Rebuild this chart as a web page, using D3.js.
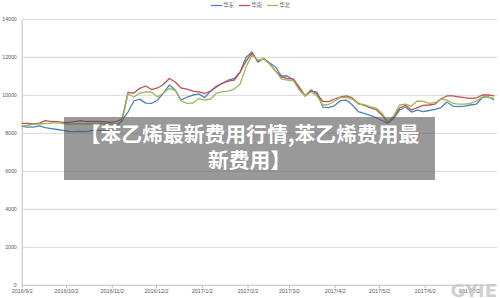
<!DOCTYPE html>
<html>
<head>
<meta charset="utf-8">
<script src="https://cdn.jsdelivr.net/npm/d3@7"></script>
<style>
  html, body { margin: 0; padding: 0; background: #fff; }
  svg { display: block; }
</style>
</head>
<body>
<div class="container"></div>
<script>
// dates every 4 days
var dates = ["2016-09-02","2016-09-06","2016-09-10","2016-09-14","2016-09-18","2016-09-22","2016-09-26","2016-09-30",
  "2016-10-04","2016-10-08","2016-10-12","2016-10-16","2016-10-20","2016-10-24","2016-10-28","2016-11-01",
  "2016-11-05","2016-11-09","2016-11-13","2016-11-17","2016-11-21","2016-11-25","2016-11-29","2016-12-03",
  "2016-12-07","2016-12-11","2016-12-15","2016-12-19","2016-12-23","2016-12-27","2016-12-31","2017-01-04",
  "2017-01-08","2017-01-12","2017-01-16","2017-01-20","2017-01-24","2017-01-28","2017-02-01","2017-02-05",
  "2017-02-09","2017-02-13","2017-02-17","2017-02-21","2017-02-25","2017-03-01","2017-03-05","2017-03-09",
  "2017-03-13","2017-03-17","2017-03-21","2017-03-25","2017-03-29","2017-04-02","2017-04-06","2017-04-10",
  "2017-04-14","2017-04-18","2017-04-22","2017-04-26","2017-04-30","2017-05-04","2017-05-08","2017-05-12",
  "2017-05-16","2017-05-20","2017-05-24","2017-05-28","2017-06-01","2017-06-05","2017-06-09","2017-06-13",
  "2017-06-17","2017-06-21","2017-06-25","2017-06-29","2017-07-03","2017-07-07","2017-07-11","2017-07-15",
  "2017-07-19"];

var huadong = [8360,8330,8320,8390,8300,8250,8200,8150,8095,8085,8095,8085,8150,8150,8135,8135,
  8280,8700,9120,9700,9800,9590,9570,9750,10120,10540,10280,9750,9910,10015,10070,9880,
  10225,10490,10620,10800,10885,11225,12000,12280,11750,11935,11700,11490,11015,11015,10805,10385,
  9965,10225,10170,9380,9355,9460,9725,9750,9490,9145,9050,8945,8830,8675,8525,8780,
  9225,9385,9120,9225,9145,9200,9265,9355,9645,9435,9400,9435,9490,9540,9885,9925,9750];

var huanan = [8525,8515,8490,8540,8665,8620,8610,8570,8570,8620,8665,8620,8620,8620,8595,8570,
  8620,8750,10150,10120,10370,10490,10305,10385,10570,10885,10700,10385,10330,10225,10175,10095,
  10225,10435,10645,10750,10805,11225,11805,12225,11780,11935,11645,11280,10960,10885,10860,10435,
  9965,10280,10070,9675,9665,9805,9910,9965,9860,9570,9465,9355,9250,8965,8570,8860,
  9330,9475,9225,9355,9465,9490,9540,9805,9965,9965,9920,9875,9840,9860,10015,10015,9965];

var huabei = [8385,8410,8465,8490,8515,8525,8560,8515,8490,8490,8490,8490,8490,8490,8490,8490,
  8490,8620,10070,9910,10120,10175,10175,9910,10120,10360,10250,9700,9580,9595,9830,9750,
  9805,10120,10190,10225,10330,10595,11490,12120,11855,11910,11645,11280,10855,10805,10780,10280,
  9965,10175,9965,9490,9515,9700,9885,9885,9805,9540,9515,9410,9330,9070,8595,8910,
  9490,9540,9435,9700,9675,9570,9610,9805,9750,9580,9540,9540,9570,9700,9910,9910,9840];

var seriesNames = ["华东", "华南", "华北"];
var seriesColors = ["#4f81bd", "#c0504d", "#9bbb59"];
var yTicks = [0, 2000, 4000, 6000, 8000, 10000, 12000, 14000];
var tickDates = ["2016-09-02","2016-10-02","2016-11-02","2016-12-02","2017-01-02","2017-02-02",
  "2017-03-02","2017-04-02","2017-05-02","2017-06-02","2017-07-02"];
var titleLines = ["【苯乙烯最新费用行情,苯乙烯费用最", "新费用】"];

var width = 500, height = 298;
var parse = d3.timeParse("%Y-%m-%d");
var fmt = function(d) { return d.getFullYear() + "/" + (d.getMonth() + 1) + "/" + d.getDate(); };

var svg = d3.select(".container").append("svg")
  .attr("width", width)
  .attr("height", height);

var x = d3.scaleTime()
  .domain([parse("2016-09-02"), parse("2017-07-21")])
  .range([21.7, 497]);
var y = d3.scaleLinear()
  .domain([0, 14000])
  .range([285.3, 19.3]);

// grid lines
svg.append("g").selectAll("line")
  .data(yTicks)
  .enter()
  .append("line")
  .attr("x1", x.range()[0])
  .attr("x2", x.range()[1])
  .attr("y1", function(d) { return y(d); })
  .attr("y2", function(d) { return y(d); })
  .attr("stroke", function(d) { return d === 0 ? "#bfbfbf" : "#d9d9d9"; })
  .attr("stroke-width", 1);

// left axis
var yAxis = svg.append("g")
  .attr("transform", "translate(" + x.range()[0] + ",0)")
  .call(d3.axisLeft(y).tickValues(yTicks).tickSize(0).tickPadding(5).tickFormat(d3.format("d")));
yAxis.select(".domain").attr("stroke", "#bfbfbf");
yAxis.selectAll("text")
  .attr("fill", "#595959")
  .style("font-family", "Liberation Sans, Arial, sans-serif")
  .style("font-size", "5.2px");

// bottom axis
var xAxis = svg.append("g")
  .attr("transform", "translate(0," + y(0) + ")")
  .call(d3.axisBottom(x).tickValues(tickDates.map(parse)).tickSize(3).tickPadding(1).tickFormat(fmt));
xAxis.select(".domain").remove();
xAxis.selectAll("line").attr("stroke", "#bfbfbf");
xAxis.selectAll("text")
  .attr("fill", "#595959")
  .style("font-family", "Liberation Sans, Arial, sans-serif")
  .style("font-size", "5.4px");

// series lines
var allSeries = [huadong, huanan, huabei];
var line = d3.line()
  .x(function(d, i) { return x(parse(dates[i])); })
  .y(function(d) { return y(d); });

svg.append("g").selectAll("path")
  .data(allSeries)
  .enter()
  .append("path")
  .attr("d", function(d) { return line(d); })
  .attr("fill", "none")
  .attr("stroke", function(d, i) { return seriesColors[i]; })
  .attr("stroke-width", 1.3)
  .attr("stroke-linejoin", "round");

// legend
var legendX = [211, 239, 267];
var legend = svg.append("g").selectAll("g")
  .data(seriesNames)
  .enter()
  .append("g")
  .attr("transform", function(d, i) { return "translate(" + legendX[i] + ",5.5)"; });
legend.append("line")
  .attr("x1", 0).attr("x2", 11)
  .attr("stroke", function(d, i) { return seriesColors[i]; })
  .attr("stroke-width", 1.3);
legend.append("text")
  .attr("x", 12.5)
  .attr("dy", "0.35em")
  .attr("fill", "#595959")
  .style("font-family", "Noto Sans CJK SC, sans-serif")
  .style("font-size", "5.2px")
  .text(function(d) { return d; });

// title overlay box
svg.append("rect")
  .attr("x", 64).attr("y", 117)
  .attr("width", 371).attr("height", 63)
  .attr("fill", "#555")
  .attr("fill-opacity", 0.6);

svg.append("g").selectAll("text")
  .data(titleLines)
  .enter()
  .append("text")
  .attr("x", 249.5)
  .attr("y", function(d, i) { return 135 + i * 26; })
  .attr("dy", "0.36em")
  .attr("text-anchor", "middle")
  .attr("fill", "#fff")
  .style("font-family", "Noto Sans CJK SC, sans-serif")
  .style("font-weight", "bold")
  .style("font-size", "20.8px")
  .text(function(d) { return d; });

// watermark
svg.append("text")
  .attr("x", 497)
  .attr("y", 297)
  .attr("text-anchor", "end")
  .attr("fill", "#c8c8c8")
  .attr("fill-opacity", 0.85)
  .style("font-family", "DejaVu Sans, sans-serif")
  .style("font-weight", "bold")
  .style("font-size", "18px")
  .text("GYIE");
</script>
</body>
</html>
